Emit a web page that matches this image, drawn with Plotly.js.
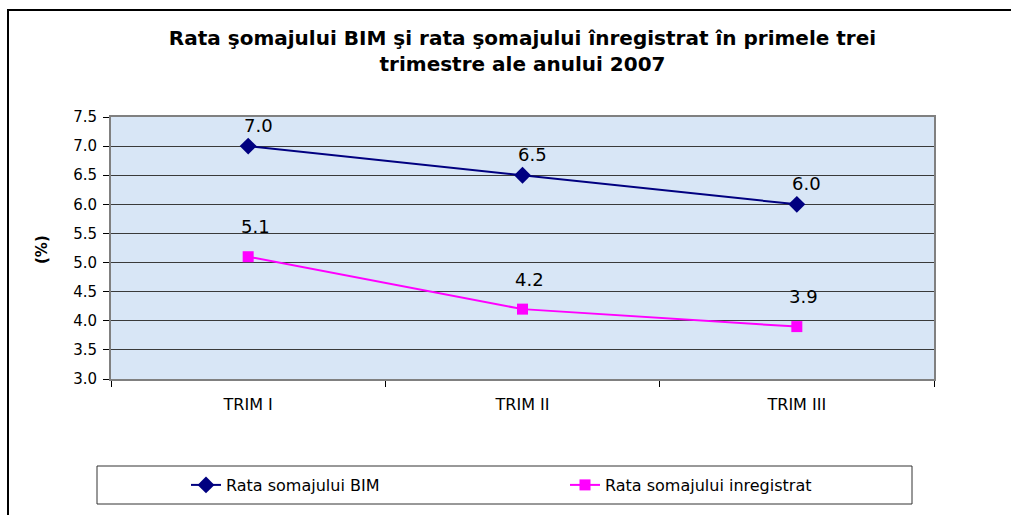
<!DOCTYPE html>
<html>
<head>
<meta charset="utf-8">
<script src="https://cdn.plot.ly/plotly-3.0.1.min.js"></script>
<style>html,body{margin:0;padding:0;background:#fff;}#chart{width:1011px;height:515px;}</style>
</head>
<body>
<div id="chart"></div>
<script>
// ---- data ----
const categories = ["TRIM I", "TRIM II", "TRIM III"];
const ratesBIM = [7.0, 6.5, 6.0];
const ratesRegistered = [5.1, 4.2, 3.9];
const seriesNames = ["Rata somajului BIM", "Rata somajului inregistrat"];
const yTicks = [3.0, 3.5, 4.0, 4.5, 5.0, 5.5, 6.0, 6.5, 7.0, 7.5];
const chartTitle = "Rata şomajului BIM şi rata şomajului înregistrat în primele trei<br>trimestre ale anului 2007";
const yTitle = "(%)";

// ---- layout helpers ----
const W = 1011, H = 515;
const L = 111, R = 934, T = 117, B = 379;
const px = x => (x - L) / (R - L);
const py = y => (B - y) / (B - T);
const FONT = "'DejaVu Sans', Arial, sans-serif";

const traces = [
  {
    x: categories, y: ratesBIM, name: seriesNames[0], type: "scatter", mode: "lines+markers",
    line: {color: "#000080", width: 2},
    marker: {symbol: "diamond", size: 13, color: "#000080"}
  },
  {
    x: categories, y: ratesRegistered, name: seriesNames[1], type: "scatter", mode: "lines+markers",
    line: {color: "#FF00FF", width: 2},
    marker: {symbol: "square", size: 11, color: "#FF00FF"}
  }
];

const annotations = [];
ratesBIM.forEach((v, i) => annotations.push({
  x: categories[i], y: v, xref: "x", yref: "y", text: v.toFixed(1), showarrow: false,
  xshift: 10, yshift: 21, font: {family: FONT, size: 18, color: "#000"}
}));
ratesRegistered.forEach((v, i) => annotations.push({
  x: categories[i], y: v, xref: "x", yref: "y", text: v.toFixed(1), showarrow: false,
  xshift: 7, yshift: 30, font: {family: FONT, size: 18, color: "#000"}
}));
annotations.push({
  x: px(42), y: py(250), xref: "paper", yref: "paper", xanchor: "center", yanchor: "middle",
  text: "<b>" + yTitle + "</b>",
  showarrow: false, textangle: -90, font: {family: FONT, size: 15, color: "#000"}
});

const layout = {
  width: W, height: H,
  margin: {l: L, r: W - R, t: T, b: H - B, pad: 0, autoexpand: false},
  paper_bgcolor: "#ffffff",
  plot_bgcolor: "#d8e6f6",
  title: {
    text: "<b>" + chartTitle + "</b>",
    x: 0.5, xref: "paper", xanchor: "center",
    y: 1 - 45 / H, yref: "container", yanchor: "middle",
    font: {family: FONT, size: 20, color: "#000"}
  },
  showlegend: true,
  legend: {
    orientation: "h", x: px(186), y: py(468), xanchor: "left", yanchor: "top",
    xref: "paper", yref: "paper",
    entrywidth: 334, entrywidthmode: "pixels",
    bgcolor: "rgba(0,0,0,0)", borderwidth: 0,
    font: {family: FONT, size: 16, color: "#000"}
  },
  xaxis: {
    type: "category", range: [-0.5, 2.5], showgrid: false, zeroline: false,
    showline: true, linecolor: "#808080", linewidth: 2, mirror: true,
    ticks: "outside", tickson: "boundaries", ticklen: 6, tickcolor: "#000", tickwidth: 1,
    ticklabelstandoff: 10,
    tickfont: {family: FONT, size: 16, color: "#000"},
    fixedrange: true
  },
  yaxis: {
    range: [3.0, 7.5], tickvals: yTicks, ticktext: yTicks.map(v => v.toFixed(1)),
    showgrid: true, gridcolor: "#3a3a3a", gridwidth: 1, zeroline: false,
    showline: true, linecolor: "#808080", linewidth: 2, mirror: true,
    ticks: "outside", ticklen: 6, tickcolor: "#000", tickwidth: 1,
    ticklabelstandoff: 3,
    tickfont: {family: FONT, size: 15, color: "#000"},
    fixedrange: true
  },
  annotations: annotations,
  shapes: [
    {type: "rect", xref: "paper", yref: "paper", x0: px(8), x1: px(1100), y0: py(10), y1: py(700),
     line: {color: "#000", width: 2}, fillcolor: "rgba(0,0,0,0)", layer: "below"},
    {type: "rect", xref: "paper", yref: "paper", x0: px(97), x1: px(912), y0: py(466), y1: py(504),
     line: {color: "#333", width: 1}, fillcolor: "rgba(0,0,0,0)"}
  ]
};

Plotly.newPlot("chart", traces, layout, {displayModeBar: false, staticPlot: true});
</script>
</body>
</html>
